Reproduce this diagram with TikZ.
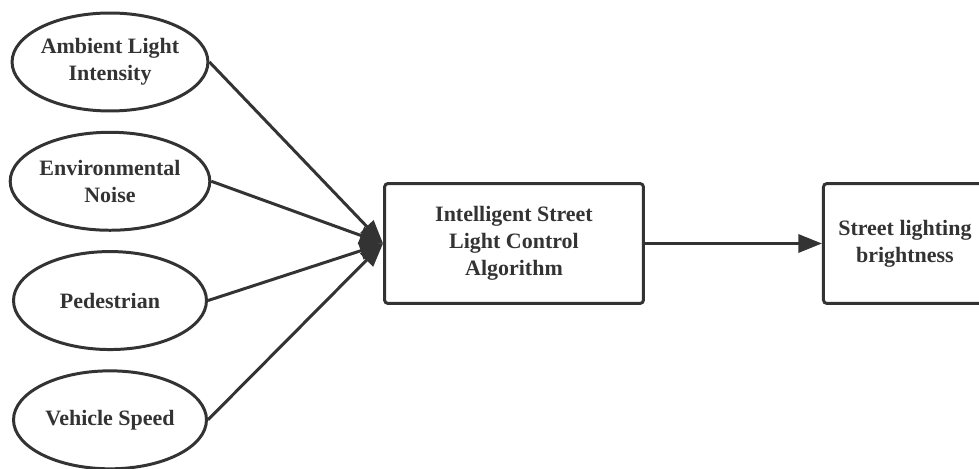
\documentclass[tikz,border=0pt]{standalone}
\usepackage{fontspec}
\setmainfont{Liberation Serif}
\usetikzlibrary{arrows.meta,shapes.geometric}
\definecolor{ink}{RGB}{51,51,51}
\begin{document}
\begin{tikzpicture}[x=0.02cm,y=-0.02cm,
    every node/.style={font=\bfseries\fontsize{12.5}{15.3}\selectfont,text=ink,align=center},
    factor/.style={ellipse,draw=ink,line width=1.7pt,minimum width=3.86cm,minimum height=1.96cm,inner sep=0pt},
    block/.style={rectangle,rounded corners=2pt,draw=ink,line width=1.7pt,minimum height=2.40cm},
    >={Triangle[length=0.47cm,width=0.36cm]}]
      \clip (0,0) rectangle (979,469);
      \node [factor] (1) at (110,62) {Ambient Light\\Intensity};
      \node [factor,below of=1,node distance=2.386cm] (2) {Environmental\\Noise};
      \node [factor,below of=2,node distance=2.386cm] (3) {Pedestrian};
      \node [factor,below of=3,node distance=2.386cm] (4) {Vehicle Speed};
      \node [block,minimum width=5.18cm] (5) at (514,243.5) {Intelligent Street\\Light Control\\Algorithm};
      \node [block,minimum width=3.26cm,right of=5,node distance=7.82cm] (6) {Street lighting\\brightness};

      \draw[->,draw=ink,fill=ink,line width=1.7pt] (1.east) -- (5.west);
      \draw[->,draw=ink,fill=ink,line width=1.7pt] (2.east) -- (5.west);
      \draw[->,draw=ink,fill=ink,line width=1.7pt] (3.east) -- (5.west);
      \draw[->,draw=ink,fill=ink,line width=1.7pt] (4.east) -- (5.west);
      \draw[->,draw=ink,fill=ink,line width=1.7pt] (5) -- (6);
    \end{tikzpicture}
\end{document}
